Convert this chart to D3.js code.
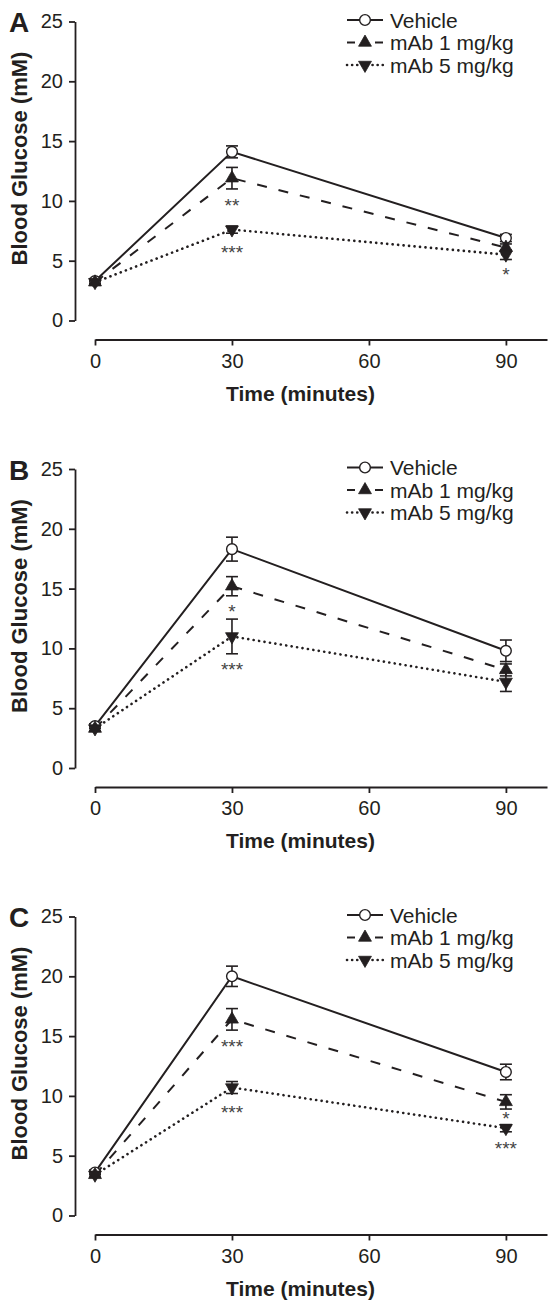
<!DOCTYPE html>
<html>
<head>
<meta charset="utf-8">
<script src="https://cdn.jsdelivr.net/npm/d3@7"></script>
<style>
    body { margin: 0; background: #fff; }
    svg { display: block; font-family: Arial, "Liberation Sans", Helvetica, sans-serif; }
    .axis path, .axis line { stroke: #231f20; stroke-width: 1.8; }
    .axis text { font-size: 20px; fill: #231f20; }
    .axisTitle { font-size: 21px; font-weight: bold; fill: #231f20; }
    .panelLabel { font-size: 28px; font-weight: bold; fill: #231f20; }
    .legendText { font-size: 21px; fill: #231f20; }
    .star { font-size: 19px; fill: #444; }
</style>
</head>
<body>
<div id="chart"></div>
<script>

// time points (minutes)
var times = [0, 30, 90];
var panelLabels = ["A", "B", "C"];
var seriesNames = ["Vehicle", "mAb 1 mg/kg", "mAb 5 mg/kg"];

// blood glucose means and error (mM), one row per panel
var vehicleMean = [[3.3, 14.1, 6.9], [3.5, 18.3, 9.8], [3.6, 20.0, 12.0]];
var vehicleErr  = [[0.2, 0.5, 0.3],  [0.2, 1.0, 0.9],  [0.2, 0.85, 0.65]];
var mab1Mean    = [[3.2, 11.9, 6.1], [3.3, 15.2, 8.2], [3.4, 16.4, 9.5]];
var mab1Err     = [[0.2, 0.9, 0.3],  [0.2, 0.8, 0.5],  [0.2, 0.9, 0.6]];
var mab5Mean    = [[3.2, 7.6, 5.5],  [3.3, 11.0, 7.2], [3.4, 10.7, 7.3]];
var mab5Err     = [[0.2, 0.3, 0.4],  [0.2, 1.45, 0.8], [0.2, 0.5, 0.3]];

// significance marks: time, height (mM) where the mark sits, label
var starsA = [[30, 10.0, "**"], [30, 6.1, "***"], [90, 4.2, "*"]];
var starsB = [[30, 13.5, "*"], [30, 8.6, "***"]];
var starsC = [[30, 14.5, "***"], [30, 9.0, "***"], [90, 8.5, "*"], [90, 6.0, "***"]];

var yTicks = [0, 5, 10, 15, 20, 25];
var xTicks = [0, 30, 60, 90];

var width = 548, height = 1302;

var svg = d3.select("#chart").append("svg")
    .attr("width", width)
    .attr("height", height);

/**
 * Constructor for one glucose panel
 */
function GlucosePanel(svg, index, stars){
    var self = this;
    self.svg = svg;
    self.index = index;
    self.stars = stars;
    self.init();
};

/**
 * Sets up the scales and axes for this panel
 */
GlucosePanel.prototype.init = function(){
    var self = this;
    self.top = 21.5 + 447.5 * self.index;
    self.g = self.svg.append("g");

    self.xScale = d3.scaleLinear()
        .domain([0, 99])
        .range([95, 547]);

    self.yScale = d3.scaleLinear()
        .domain([0, 25])
        .range([self.top + 299, self.top]);

    var yAxis = d3.axisLeft(self.yScale)
        .tickValues(yTicks)
        .tickSize(6)
        .tickSizeOuter(0)
        .tickPadding(6);

    self.g.append("g")
        .attr("class", "axis")
        .attr("transform", "translate(75,0)")
        .call(yAxis);

    var xAxis = d3.axisBottom(self.xScale)
        .tickValues(xTicks)
        .tickSize(6)
        .tickSizeOuter(0)
        .tickPadding(8);

    self.g.append("g")
        .attr("class", "axis")
        .attr("transform", "translate(0," + (self.top + 318) + ")")
        .call(xAxis);

    self.g.append("text")
        .attr("class", "axisTitle")
        .attr("x", self.xScale(45))
        .attr("y", self.top + 379)
        .style("text-anchor", "middle")
        .text("Time (minutes)");

    self.g.append("text")
        .attr("class", "axisTitle")
        .attr("transform", "translate(27," + (self.top + 137) + ") rotate(-90)")
        .style("text-anchor", "middle")
        .style("font-size", "22px")
        .text("Blood Glucose (mM)");

    self.g.append("text")
        .attr("class", "panelLabel")
        .attr("x", 9)
        .attr("y", self.top + 10.5)
        .text(panelLabels[self.index]);
};

/**
 * Returns the marker path for a series
 */
GlucosePanel.prototype.marker = function(s){
    if (s == 0)
        return d3.symbol().type(d3.symbolCircle).size(90)();
    return d3.symbol().type(d3.symbolTriangle).size(72)();
}

/**
 * Draws the lines, error bars, markers, stars and legend
 */
GlucosePanel.prototype.update = function(){
    var self = this;
    var i = self.index;

    var series = [
        {name: seriesNames[0], mean: vehicleMean[i], err: vehicleErr[i], dash: null, width: 2},
        {name: seriesNames[1], mean: mab1Mean[i], err: mab1Err[i], dash: "10,12", width: 2},
        {name: seriesNames[2], mean: mab5Mean[i], err: mab5Err[i], dash: "0.1,5.4", width: 2.6}
    ];
    series.forEach(function(s, k){
        s.id = k;
        s.points = times.map(function(t, j){ return {t: t, v: s.mean[j], e: s.err[j]}; });
    });

    var line = d3.line()
        .x(function(d){ return self.xScale(d.t); })
        .y(function(d){ return self.yScale(d.v); });

    self.g.selectAll(".seriesLine")
        .data(series)
        .enter().append("path")
        .attr("class", "seriesLine")
        .attr("d", function(d){ return line(d.points); })
        .attr("fill", "none")
        .attr("stroke", "#231f20")
        .attr("stroke-width", function(d){ return d.width; })
        .attr("stroke-dasharray", function(d){ return d.dash; })
        .attr("stroke-linecap", function(d){ return d.id == 2 ? "round" : "butt"; });

    // error bars
    var bars = self.g.selectAll(".errBar")
        .data(series)
        .enter().append("g")
        .attr("class", "errBar")
        .selectAll("g")
        .data(function(d){ return d.points; })
        .enter().append("g")
        .attr("transform", function(d){ return "translate(" + self.xScale(d.t) + ",0)"; });

    bars.append("line")
        .attr("y1", function(d){ return self.yScale(d.v - d.e); })
        .attr("y2", function(d){ return self.yScale(d.v + d.e); });
    bars.append("line")
        .attr("x1", -6).attr("x2", 6)
        .attr("y1", function(d){ return self.yScale(d.v + d.e); })
        .attr("y2", function(d){ return self.yScale(d.v + d.e); });
    bars.append("line")
        .attr("x1", -6).attr("x2", 6)
        .attr("y1", function(d){ return self.yScale(d.v - d.e); })
        .attr("y2", function(d){ return self.yScale(d.v - d.e); });
    bars.selectAll("line")
        .attr("stroke", "#231f20")
        .attr("stroke-width", 1.6);

    // markers
    self.g.selectAll(".markers")
        .data(series)
        .enter().append("g")
        .attr("class", "markers")
        .each(function(s){
            d3.select(this).selectAll("path")
                .data(s.points)
                .enter().append("path")
                .attr("d", self.marker(s.id))
                .attr("transform", function(d){
                    return "translate(" + self.xScale(d.t) + "," + self.yScale(d.v) + ")" + (s.id == 2 ? " rotate(180)" : "");
                })
                .attr("fill", s.id == 0 ? "#fff" : "#231f20")
                .attr("stroke", "#231f20")
                .attr("stroke-width", s.id == 0 ? 1.4 : 0.8);
        });

    // significance stars
    self.g.selectAll(".star")
        .data(self.stars)
        .enter().append("text")
        .attr("class", "star")
        .attr("x", function(d){ return self.xScale(d[0]); })
        .attr("y", function(d){ return self.yScale(d[1]) + 11; })
        .style("text-anchor", "middle")
        .text(function(d){ return d[2]; });

    // legend
    var legendDash = [null, "8,20,8", "0.1,5"];
    var legend = self.g.selectAll(".legendRow")
        .data(series)
        .enter().append("g")
        .attr("class", "legendRow")
        .attr("transform", function(d, k){ return "translate(0," + (self.top - 1.5 + k * 22.5) + ")"; });

    legend.append("line")
        .attr("x1", 347).attr("x2", 383)
        .attr("stroke", "#231f20")
        .attr("stroke-width", function(d){ return d.width; })
        .attr("stroke-dasharray", function(d){ return legendDash[d.id]; })
        .attr("stroke-linecap", function(d){ return d.id == 2 ? "round" : "butt"; });

    legend.append("path")
        .attr("d", function(d){ return self.marker(d.id); })
        .attr("transform", function(d){ return "translate(365,0)" + (d.id == 2 ? " rotate(180)" : ""); })
        .attr("fill", function(d){ return d.id == 0 ? "#fff" : "#231f20"; })
        .attr("stroke", "#231f20")
        .attr("stroke-width", function(d){ return d.id == 0 ? 1.4 : 0.8; });

    legend.append("text")
        .attr("class", "legendText")
        .attr("x", 390)
        .attr("dy", "0.36em")
        .text(function(d){ return d.name; });
};

var allStars = [starsA, starsB, starsC];
panelLabels.forEach(function(label, i){
    var panel = new GlucosePanel(svg, i, allStars[i]);
    panel.update();
});

</script>
</body>
</html>
